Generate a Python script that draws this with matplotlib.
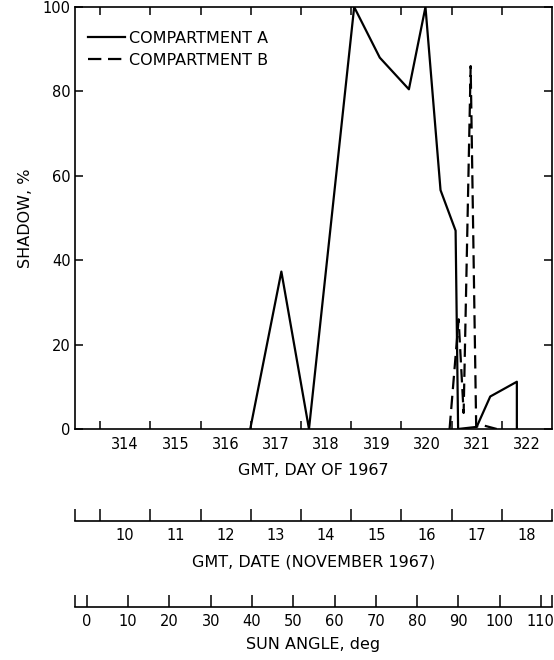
import numpy as np
import matplotlib
matplotlib.use("Agg")
import matplotlib.pyplot as plt

plt.rcParams['font.family'] = ['DejaVu Sans']

# shadow on the two compartments, GMT day of 1967
day_a = [316.49, 317.11, 317.66, 318.56, 319.07, 319.65, 319.98, 320.28, 320.58, 320.63, 321.00, 321.27, 321.80, 321.80]
shadow_a = [0, 37.3, 0, 100, 88, 80.5, 100, 56.6, 47, 0, 0.5, 7.7, 11.2, 0]

day_b = [320.46, 320.64, 320.74, 320.88, 320.99, 321.15, 321.40]
shadow_b = [0, 26, 3.8, 86, 0.6, 0.8, 0]

days = [314, 315, 316, 317, 318, 319, 320, 321, 322]
day_edges = [313.5, 314.5, 315.5, 316.5, 317.5, 318.5, 319.5, 320.5, 321.5]
nov_dates = [10, 11, 12, 13, 14, 15, 16, 17, 18]
sun_angles = [0, 10, 20, 30, 40, 50, 60, 70, 80, 90, 100, 110]
y_vals = [0, 20, 40, 60, 80, 100]

TICK_FS = 10.5
LABEL_FS = 11.5

W, H = 554, 660
fig = plt.figure(figsize=(W / 100, H / 100), dpi=100)

L, R = 75, 552
ax = fig.add_axes([L / W, 1 - 429 / H, (R - L) / W, 422 / H])
ax.plot(day_a, shadow_a, color='black', lw=1.6, label='COMPARTMENT A')
ax.plot(day_b, shadow_b, color='black', lw=1.6, dashes=(6, 3), label='COMPARTMENT B')
ax.set_xlim(313, 322.5)
ax.set_ylim(0, 100)
ax.set_xticks(day_edges)
ax.set_xticklabels([])
ax.set_xticks(days, labels=[str(d) for d in days], minor=True)
ax.set_yticks(y_vals)
ax.tick_params(which='major', direction='in', length=6, width=1.1,
               top=True, right=True, labelsize=TICK_FS, pad=3)
ax.tick_params(axis='x', which='minor', length=0, labelsize=TICK_FS, pad=6)
for s in ax.spines.values():
    s.set_linewidth(1.2)
ax.set_xlabel('GMT, DAY OF 1967', fontsize=LABEL_FS, labelpad=8)
ax.set_ylabel('SHADOW, %', fontsize=LABEL_FS, labelpad=7)
ax.legend(loc='upper left', bbox_to_anchor=(0.027, 0.944), frameon=False,
          fontsize=LABEL_FS, handlelength=2.3, handletextpad=0.3,
          labelspacing=0.43, borderpad=0, borderaxespad=0)


def scale_axis(y_px, xlim, major, labels=None):
    a = fig.add_axes([L / W, 1 - y_px / H, (R - L) / W, 1e-4])
    for k in ('left', 'right', 'top'):
        a.spines[k].set_visible(False)
    a.spines['bottom'].set_linewidth(1.2)
    a.set_yticks([])
    a.set_xlim(*xlim)
    a.set_xticks(major)
    if labels is None:
        a.set_xticklabels([])
    else:
        a.set_xticklabels(labels)
    a.tick_params(which='major', direction='in', length=8.5, width=1.1,
                  labelsize=TICK_FS, pad=5)
    return a


# calendar date scale
ax2 = scale_axis(521, (313, 322.5), [313] + day_edges + [322.5])
ax2.set_xticks(days, labels=[str(d) for d in nov_dates], minor=True)
ax2.tick_params(which='minor', length=0, labelsize=TICK_FS, pad=5)
ax2.set_xlabel('GMT, DATE (NOVEMBER 1967)', fontsize=LABEL_FS, labelpad=8)

# sun angle scale
ax3 = scale_axis(606.7, (-2.9, 112.7), sun_angles,
                 labels=[str(s) for s in sun_angles])
ax3.set_xticks([-2.9, 112.7], minor=True)
ax3.tick_params(which='minor', direction='in', length=8.5, width=1.1)
ax3.set_xlabel('SUN ANGLE, deg', fontsize=LABEL_FS, labelpad=6)

fig.savefig('out.png', dpi=100)
